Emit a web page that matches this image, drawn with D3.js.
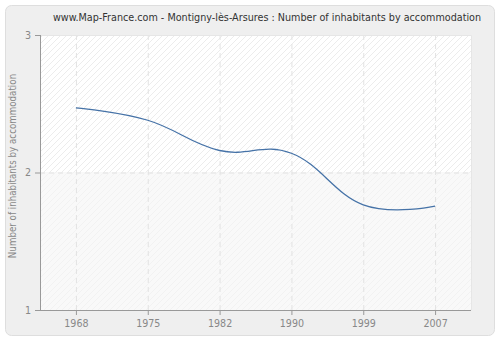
<!DOCTYPE html>
<html><head><meta charset="utf-8">
<script src="https://cdn.jsdelivr.net/npm/d3@7"></script>
<style>body{margin:0;background:#fff}svg{display:block}</style>
</head><body>
<svg id="c" width="500" height="340"></svg>
<script>
const years = ["1968","1975","1982","1990","1999","2007"];
const values = [2.47, 2.38, 2.16, 2.14, 1.765, 1.755];
const yTicks = [1, 2, 3];
const title = "www.Map-France.com - Montigny-lès-Arsures : Number of inhabitants by accommodation";
const yLabel = "Number of inhabitants by accommodation";

const svg = d3.select("#c");
const m = {l:40, r:471, t:35, b:310};
const font = "'DejaVu Sans Condensed', 'DejaVu Sans', sans-serif";

const defs = svg.append("defs");
function hatch(id, bg, fg){
  const p = defs.append("pattern").attr("id",id).attr("patternUnits","userSpaceOnUse")
    .attr("width",6).attr("height",6);
  p.append("rect").attr("width",6).attr("height",6).attr("fill",bg);
  p.append("path").attr("d","M-1,7 L7,-1 M-4,4 L4,-4 M2,10 L10,2").attr("stroke",fg).attr("stroke-width",1);
}
hatch("hatch","#ffffff","#ececec");
hatch("hatch2","#f9f9f9","#f2f2f2");

svg.append("rect").attr("x",5.5).attr("y",5.5).attr("width",489).attr("height",330)
  .attr("rx",6).attr("fill","#efefef").attr("stroke","#dedede");

const x = d3.scalePoint().domain(years).range([m.l, m.r]).padding(0.5);
const y = d3.scaleLinear().domain([1,3]).range([m.b, m.t]);

svg.append("rect").attr("x",m.l).attr("y",y(3)).attr("width",m.r-m.l).attr("height",y(2)-y(3)).attr("fill","url(#hatch)");
svg.append("rect").attr("x",m.l).attr("y",y(2)).attr("width",m.r-m.l).attr("height",y(1)-y(2)).attr("fill","url(#hatch2)");

// grid
svg.append("g").selectAll("line").data(years).join("line")
  .attr("x1",d=>x(d)+0.5).attr("x2",d=>x(d)+0.5).attr("y1",m.t).attr("y2",m.b)
  .attr("stroke","#e2e2e2").attr("stroke-dasharray","5,4");
svg.append("g").selectAll("line").data(yTicks.slice(1,-1)).join("line")
  .attr("x1",m.l).attr("x2",m.r).attr("y1",d=>y(d)+0.5).attr("y2",d=>y(d)+0.5)
  .attr("stroke","#e2e2e2").attr("stroke-dasharray","5,4");

svg.append("path").attr("d",`M${m.l},${m.t+0.5}H${m.r+0.5}V${m.b}`).attr("fill","none").attr("stroke","#e6e6e6");

// axes
const xAxis = svg.append("g").attr("transform",`translate(0,${m.b})`)
  .call(d3.axisBottom(x).tickSize(5).tickPadding(4));
const yAxis = svg.append("g").attr("transform",`translate(${m.l},0)`)
  .call(d3.axisLeft(y).tickValues(yTicks).tickFormat(d3.format("d")).tickSize(5).tickPadding(4));
[xAxis,yAxis].forEach(g=>{
  g.select(".domain").attr("stroke","#999");
  g.selectAll(".tick line").attr("stroke","#999");
  g.selectAll("text").attr("fill","#888").attr("font-family",font).attr("font-size",10.6);
});
xAxis.select(".domain").attr("d",`M${m.l},0.5H${m.r}`);
yAxis.select(".domain").attr("d",`M0.5,${m.t}V${m.b}`);

// spline (control points at 1/2.5 towards neighbours, tangent-corrected)
const pts = values.map((v,i)=>[x(years[i]), y(v)]);
const sm = 1.5, den = sm + 1;
const ctrl = pts.map((p,i)=>{
  const a = pts[i-1], b = pts[i+1];
  if(!a || !b) return {l:p, r:p};
  const lx=(sm*p[0]+a[0])/den, ly0=(sm*p[1]+a[1])/den;
  const rx=(sm*p[0]+b[0])/den, ry0=(sm*p[1]+b[1])/den;
  const corr = ((ry0-ly0)*(rx-p[0]))/(rx-lx) + p[1] - ry0;
  return {l:[lx, ly0+corr], r:[rx, ry0+corr]};
});
const path = d3.path();
path.moveTo(pts[0][0], pts[0][1]);
for(let i=1;i<pts.length;i++){
  const c1 = ctrl[i-1].r, c2 = ctrl[i].l;
  path.bezierCurveTo(c1[0],c1[1],c2[0],c2[1],pts[i][0],pts[i][1]);
}
svg.append("path").attr("d",path.toString()).attr("fill","none")
  .attr("stroke","#4572a7").attr("stroke-width",1.3);

// texts
svg.append("text").attr("x",267).attr("y",21).attr("text-anchor","middle")
  .attr("font-family",font).attr("font-size",10.7).attr("fill","#333").text(title);
svg.append("text").attr("transform",`translate(16,166) rotate(-90)`)
  .attr("text-anchor","middle").attr("font-family",font).attr("font-size",9.7)
  .attr("fill","#888").text(yLabel);
</script>
</body></html>
